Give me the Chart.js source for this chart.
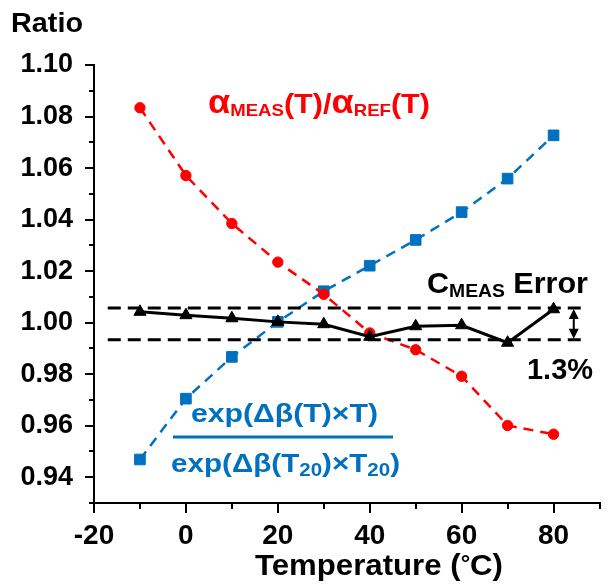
<!DOCTYPE html>
<html>
<head>
<meta charset="utf-8">
<script src="https://cdn.jsdelivr.net/npm/chart.js@4.4.0/dist/chart.umd.min.js"></script>
<style>
  body { margin: 0; background: #fff; }
  canvas { display: block; }
</style>
</head>
<body>
<canvas id="myChart" width="608" height="587"></canvas>
<script>
var temperature = [-10, 0, 10, 20, 30, 40, 50, 60, 70, 80];
var alphaRatio = [1.0834, 1.0571, 1.0385, 1.0235, 1.0110, 0.9960, 0.9895, 0.9792, 0.9601, 0.9567];
var expRatio = [0.9469, 0.9705, 0.9867, 1.0003, 1.0122, 1.0221, 1.0321, 1.0429, 1.0559, 1.0727];
var cmeasRatio = [1.0042, 1.0029, 1.0017, 1.0003, 0.9994, 0.9945, 0.9986, 0.9990, 0.9922, 1.0052];

// the two dashed limits of the C_MEAS error band, and where they run
var errorBand = [1.0057, 0.9934];
var bandRange = [-17, 87];
var arrowTemp = 84.4;

var xTicks = [-20, 0, 20, 40, 60, 80];
var xMinorTicks = [-10, 10, 30, 50, 70, 90];
var yTicks = [0.94, 0.96, 0.98, 1.00, 1.02, 1.04, 1.06, 1.08, 1.10];
var yMinorTicks = [0.93, 0.95, 0.97, 0.99, 1.01, 1.03, 1.05, 1.07, 1.09];

var FONT = "'Liberation Sans', Arial, sans-serif";
var RED = '#ff0000';
var BLUE = '#0070c0';

function toPoints(xs, ys) {
  return xs.map(function (x, i) { return {x: x, y: ys[i]}; });
}

function setTicks(list) {
  return function (scale) {
    scale.ticks = list.map(function (v) { return {value: v}; });
  };
}

// draws text runs (text, size, baseline shift) squeezed/stretched to a width
function drawRuns(ctx, runs, left, baseline, width, color) {
  var natural = 0;
  runs.forEach(function (r) {
    ctx.font = 'bold ' + r[1] + 'px ' + FONT;
    natural += ctx.measureText(r[0]).width;
  });
  var sx = width ? width / natural : 1;
  ctx.save();
  ctx.translate(left, baseline);
  ctx.scale(sx, 1);
  ctx.fillStyle = color;
  ctx.textAlign = 'left';
  ctx.textBaseline = 'alphabetic';
  var x = 0;
  runs.forEach(function (r) {
    ctx.font = 'bold ' + r[1] + 'px ' + FONT;
    ctx.fillText(r[0], x, r[2] || 0);
    x += ctx.measureText(r[0]).width;
  });
  ctx.restore();
}

var annotations = {
  id: 'annotations',
  afterDraw: function (chart) {
    var ctx = chart.ctx;
    var xs = chart.scales.x, ys = chart.scales.y;

    drawRuns(ctx, [['Ratio', 27]], 11, 32, 72, '#000');
    drawRuns(ctx, [['Temperature (', 29], ['\u00b0', 22, -4], ['C)', 29]], 255, 575, 248, '#000');

    drawRuns(ctx, [['\u03b1', 33], ['MEAS', 17, 3], ['(T)/', 28], ['\u03b1', 33], ['REF', 17, 3], ['(T)', 28]],
      208, 113, 222, RED);

    drawRuns(ctx, [['exp(\u0394\u03b2(T)\u00d7T)', 26]], 191, 422, 187, BLUE);
    drawRuns(ctx, [['exp(\u0394\u03b2(T', 26], ['20', 18, 4], [')\u00d7T', 26], ['20', 18, 4], [')', 26]],
      171, 472, 229, BLUE);
    ctx.save();
    ctx.strokeStyle = BLUE;
    ctx.lineWidth = 3;
    ctx.beginPath();
    ctx.moveTo(173, 437);
    ctx.lineTo(393, 437);
    ctx.stroke();
    ctx.restore();

    drawRuns(ctx, [['C', 30], ['MEAS', 19, 4], [' Error', 30]], 427, 293, 161, '#000');
    drawRuns(ctx, [['1.3%', 30]], 527, 379, 66, '#000');

    // double arrow across the error band
    var xa = xs.getPixelForValue(arrowTemp);
    var y1 = ys.getPixelForValue(errorBand[0]);
    var y2 = ys.getPixelForValue(errorBand[1]);
    ctx.save();
    ctx.strokeStyle = '#000';
    ctx.fillStyle = '#000';
    ctx.lineWidth = 2;
    ctx.beginPath();
    ctx.moveTo(xa, y1 + 6);
    ctx.lineTo(xa, y2 - 6);
    ctx.stroke();
    ctx.beginPath();
    ctx.moveTo(xa, y1 + 1);
    ctx.lineTo(xa - 5, y1 + 11);
    ctx.lineTo(xa + 5, y1 + 11);
    ctx.closePath();
    ctx.fill();
    ctx.beginPath();
    ctx.moveTo(xa, y2 - 1);
    ctx.lineTo(xa - 5, y2 - 11);
    ctx.lineTo(xa + 5, y2 - 11);
    ctx.closePath();
    ctx.fill();
    ctx.restore();
  }
};

function getGraph() {
  var ctx = document.getElementById('myChart').getContext('2d');
  Chart.defaults.font.family = FONT;
  Chart.defaults.color = '#000';

  var bandLine = function (v) {
    return {
      data: toPoints(bandRange, [v, v]),
      borderColor: '#000',
      borderWidth: 3,
      borderDash: [13, 7],
      pointRadius: 0,
      order: 1
    };
  };

  new Chart(ctx, {
    type: 'line',
    data: {
      datasets: [{
        label: 'C_MEAS',
        data: toPoints(temperature, cmeasRatio),
        borderColor: '#000',
        backgroundColor: '#000',
        borderWidth: 3,
        pointStyle: 'triangle',
        pointRadius: 7,
        pointBorderWidth: 1,
        order: 0
      }, bandLine(errorBand[0]), bandLine(errorBand[1]), {
        label: 'alpha',
        data: toPoints(temperature, alphaRatio),
        borderColor: RED,
        backgroundColor: RED,
        borderWidth: 2.5,
        borderDash: [10, 7],
        pointStyle: 'circle',
        pointRadius: 5.2,
        pointBorderWidth: 1,
        order: 2
      }, {
        label: 'exp',
        data: toPoints(temperature, expRatio),
        borderColor: BLUE,
        backgroundColor: BLUE,
        borderWidth: 2.5,
        borderDash: [10, 7],
        pointStyle: 'rect',
        pointRadius: 7.5,
        pointBorderWidth: 1,
        order: 3
      }]
    },
    options: {
      responsive: false,
      animation: false,
      layout: {padding: {top: 65, right: 1, left: 0, bottom: 0}},
      plugins: {legend: {display: false}, tooltip: {enabled: false}},
      elements: {line: {tension: 0}},
      scales: {
        x: {
          type: 'linear',
          position: 'bottom',
          min: -20,
          max: 90,
          afterBuildTicks: setTicks(xTicks),
          afterFit: function (s) { s.height = 84; },
          border: {display: true, color: '#000', width: 2},
          grid: {drawOnChartArea: false, drawTicks: true, tickLength: 10, color: '#000', lineWidth: 2},
          ticks: {
            font: {size: 28, weight: 'bold'},
            color: '#000',
            padding: 6,
            maxRotation: 0,
            callback: function (v) { return String(v); }
          }
        },
        x2: {
          type: 'linear',
          position: {y: 0.93},
          min: -20,
          max: 90,
          afterBuildTicks: setTicks(xMinorTicks),
          border: {display: false},
          grid: {drawOnChartArea: false, drawTicks: true, tickLength: 6, color: '#000', lineWidth: 2},
          ticks: {display: false}
        },
        y: {
          type: 'linear',
          position: 'left',
          min: 0.93,
          max: 1.10,
          afterBuildTicks: setTicks(yTicks),
          afterFit: function (s) { s.width = 94; },
          border: {display: true, color: '#000', width: 2},
          grid: {drawOnChartArea: false, drawTicks: true, tickLength: 9, color: '#000', lineWidth: 2},
          ticks: {
            font: {size: 27, weight: 'bold'},
            color: '#000',
            padding: 12,
            callback: function (v) { return v.toFixed(2); }
          }
        },
        y2: {
          type: 'linear',
          position: {x: -20},
          min: 0.93,
          max: 1.10,
          afterBuildTicks: setTicks(yMinorTicks),
          border: {display: false},
          grid: {drawOnChartArea: false, drawTicks: true, tickLength: 5, color: '#000', lineWidth: 2},
          ticks: {display: false}
        }
      }
    },
    plugins: [annotations]
  });
}

function init() {
  getGraph();
}

init();
</script>
</body>
</html>
